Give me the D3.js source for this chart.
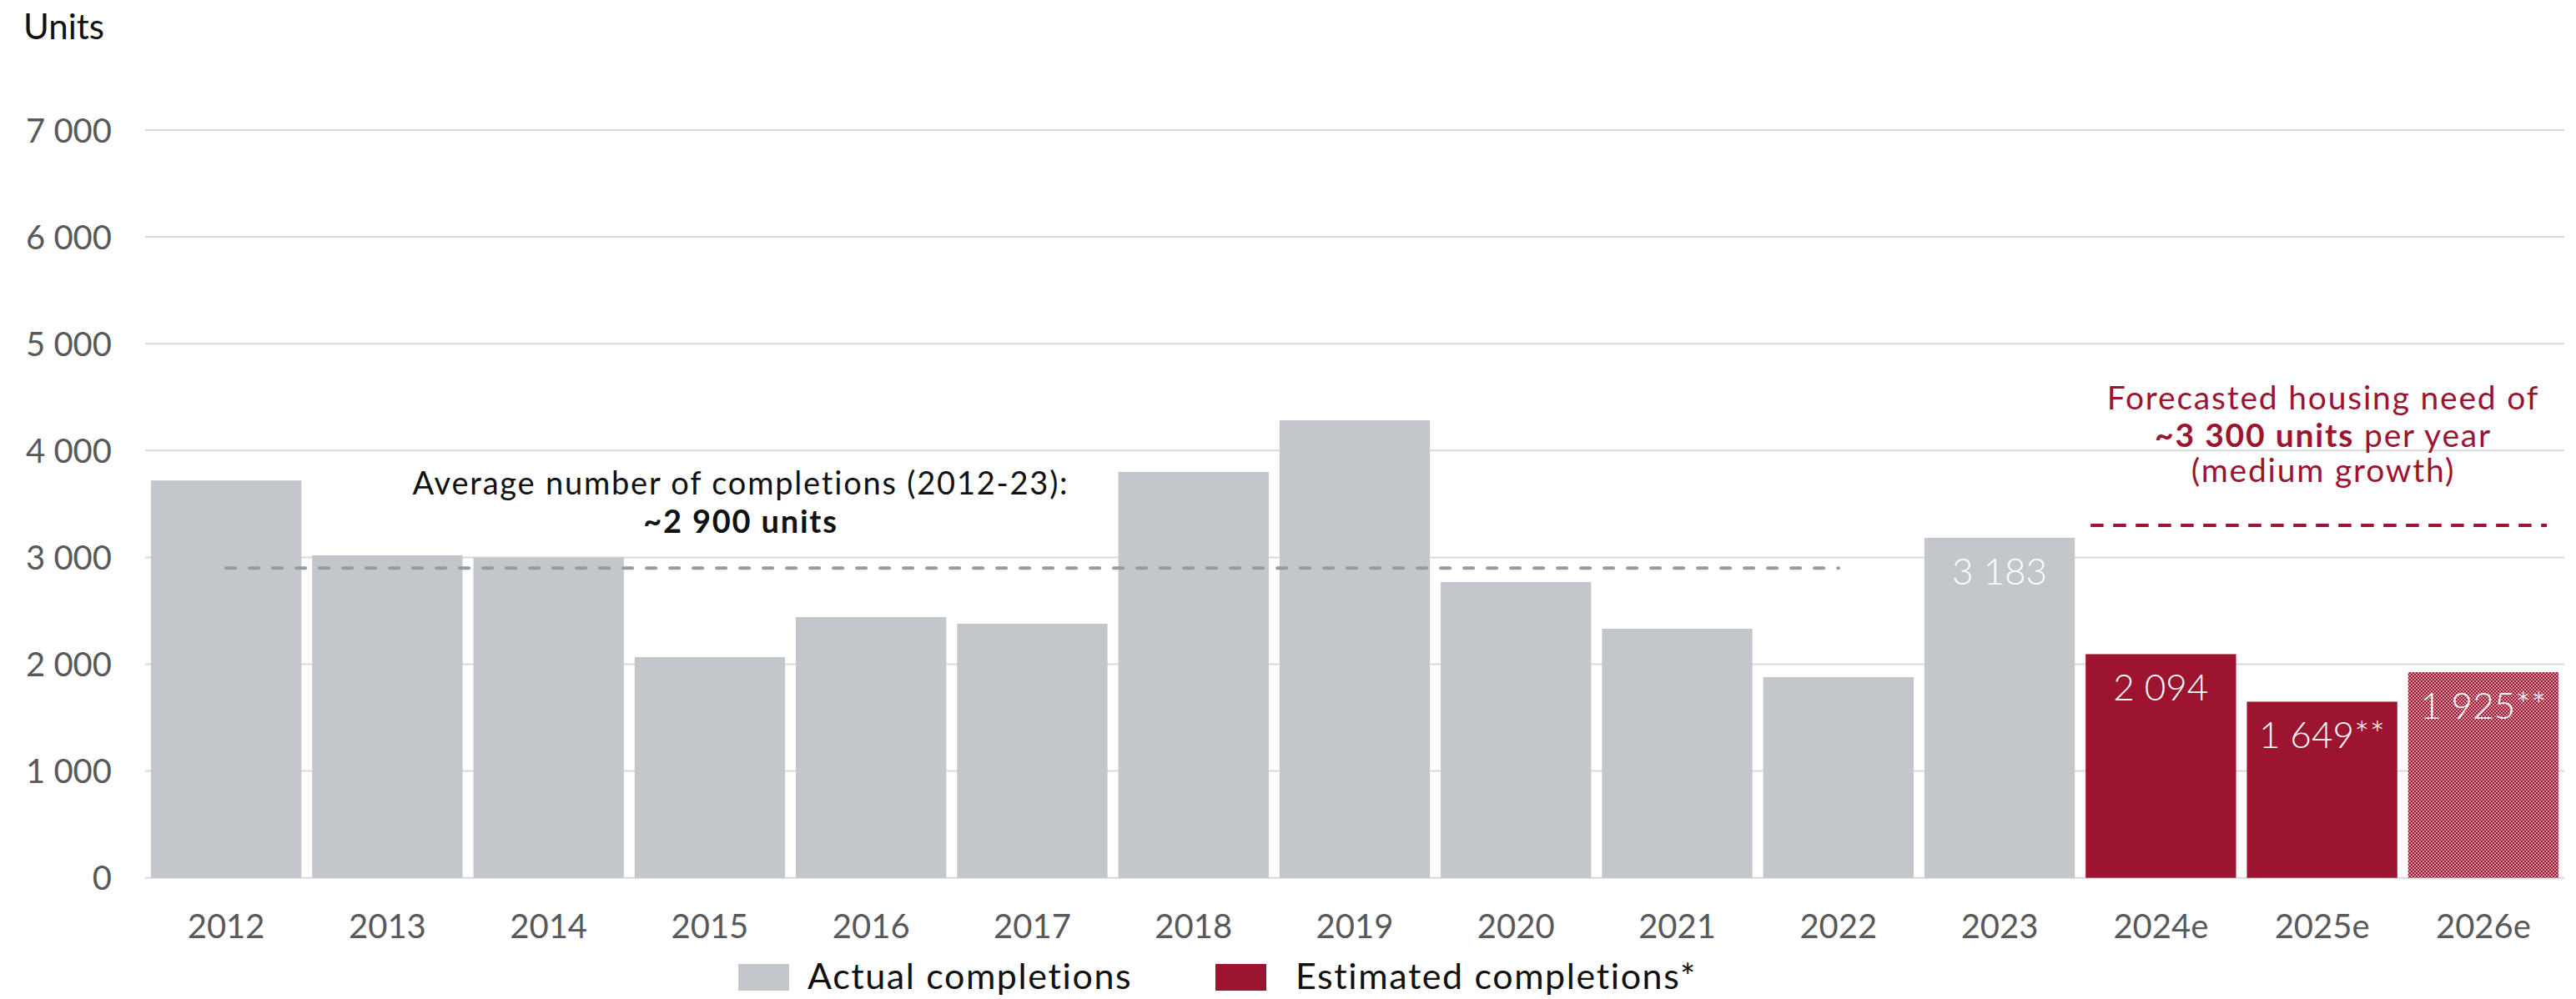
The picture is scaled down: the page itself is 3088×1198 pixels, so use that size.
<!DOCTYPE html>
<html>
<head>
<meta charset="utf-8">
<script src="https://cdn.jsdelivr.net/npm/d3@7"></script>
<style>
  html, body { margin: 0; padding: 0; background: #fff; }
  svg { display: block; font-family: "Lato", "Open Sans", sans-serif; }
</style>
</head>
<body>
<svg id="chart" width="3088" height="1198"></svg>
<script>
// Housing completions, actual (2012-2023) and estimated (2024e-2026e)
const years = ["2012","2013","2014","2015","2016","2017","2018","2019","2020","2021","2022","2023","2024e","2025e","2026e"];
const completions = [3720, 3020, 3000, 2066, 2441, 2379, 3800, 4283, 2769, 2332, 1879, 3183, 2094, 1649, 1925];
const seriesType = ["actual","actual","actual","actual","actual","actual","actual","actual","actual","actual","actual","actual","estimated","estimated","forecast"];
const valueLabels = ["","","","","","","","","","","","3 183","2 094","1 649**","1 925**"];
const yTicks = [0, 1000, 2000, 3000, 4000, 5000, 6000, 7000];
const averageCompletions = 2900;
const averageRange = ["2012", "2022"];
const housingNeed = 3300;
const housingNeedRange = ["2024e", "2026e"];
const legendItems = ["Actual completions", "Estimated completions*"];

const GREY = "#c3c7cb";
const RED = "#9c1430";

const svg = d3.select("#chart");
const defs = svg.append("defs");

// fine checker fill for the 2026e forecast bar
const pat = defs.append("pattern")
  .attr("id", "checker")
  .attr("patternUnits", "userSpaceOnUse")
  .attr("width", 4).attr("height", 4);
pat.append("rect").attr("width", 4).attr("height", 4).attr("fill", RED);
pat.append("rect").attr("x", 0).attr("y", 0).attr("width", 2).attr("height", 2)
  .attr("fill", "#fff").attr("fill-opacity", 0.55).attr("shape-rendering", "crispEdges");
pat.append("rect").attr("x", 2).attr("y", 2).attr("width", 2).attr("height", 2)
  .attr("fill", "#fff").attr("fill-opacity", 0.55).attr("shape-rendering", "crispEdges");

const x = d3.scaleBand()
  .domain(years)
  .range([174, 3074])
  .paddingInner(0.067)
  .paddingOuter(0.036);

const y = d3.scaleLinear()
  .domain([0, 7000])
  .range([1052.7, 156]);

const fmt = d3.formatLocale({ decimal: ".", thousands: " ", grouping: [3], currency: ["", ""] }).format(",d");

// gridlines
svg.append("g")
  .selectAll("line")
  .data(yTicks)
  .join("line")
  .attr("x1", 174).attr("x2", 3074)
  .attr("y1", d => y(d)).attr("y2", d => y(d))
  .attr("stroke", "#d9d9d9")
  .attr("stroke-width", 2);

// y axis labels
const yAxis = d3.axisLeft(y).tickValues(yTicks).tickFormat(fmt).tickSize(0).tickPadding(0);
const gy = svg.append("g").attr("transform", "translate(134,0)").call(yAxis);
gy.select(".domain").remove();
gy.selectAll("text")
  .attr("font-size", 40)
  .attr("fill", "#595959")
  .attr("font-family", "Lato, sans-serif")
  .attr("dy", "0.35em");

// x axis labels
const xAxis = d3.axisBottom(x).tickSize(0).tickPadding(0);
const gx = svg.append("g").attr("transform", "translate(0,1125)").call(xAxis);
gx.select(".domain").remove();
gx.selectAll("text")
  .attr("font-size", 40)
  .attr("fill", "#595959")
  .attr("font-family", "Lato, sans-serif")
  .attr("dy", 0);

// axis unit
svg.append("text")
  .attr("x", 28).attr("y", 47)
  .attr("font-size", 42)
  .attr("fill", "#111")
  .text("Units");

// bars
const data = years.map((yr, i) => ({ year: yr, value: completions[i], type: seriesType[i], label: valueLabels[i] }));
const fillFor = t => t === "actual" ? GREY : (t === "estimated" ? RED : "url(#checker)");

svg.append("g")
  .selectAll("rect")
  .data(data)
  .join("rect")
  .attr("x", d => x(d.year))
  .attr("width", x.bandwidth())
  .attr("y", d => y(d.value))
  .attr("height", d => y(0) - y(d.value))
  .attr("fill", d => fillFor(d.type));

// value labels inside bars
svg.append("g")
  .selectAll("text")
  .data(data.filter(d => d.label))
  .join("text")
  .attr("x", d => x(d.year) + x.bandwidth() / 2)
  .attr("y", d => y(d.value) + 56)
  .attr("text-anchor", "middle")
  .attr("font-size", 44)
  .attr("font-weight", 300)
  .attr("fill", "#fff")
  .text(d => d.label);

// average completions reference line
svg.append("line")
  .attr("x1", x(averageRange[0]) + x.bandwidth() / 2)
  .attr("x2", x(averageRange[1]) + x.bandwidth() / 2)
  .attr("y1", y(averageCompletions)).attr("y2", y(averageCompletions))
  .attr("stroke", "#969b9f")
  .attr("stroke-width", 4)
  .attr("stroke-linecap", "round")
  .attr("stroke-dasharray", "11 17");

const avgNote = svg.append("text")
  .attr("text-anchor", "middle")
  .attr("font-size", 38)
  .attr("letter-spacing", 1.8)
  .attr("fill", "#111");
avgNote.append("tspan").attr("x", 888).attr("y", 593).text("Average number of completions (2012-23):");
avgNote.append("tspan").attr("x", 888).attr("y", 639).attr("font-weight", 700).text("~" + fmt(averageCompletions) + " units");

// forecasted housing need reference line
svg.append("line")
  .attr("x1", x(housingNeedRange[0]) + 6)
  .attr("x2", x(housingNeedRange[1]) + x.bandwidth() - 14)
  .attr("y1", y(housingNeed)).attr("y2", y(housingNeed))
  .attr("stroke", RED)
  .attr("stroke-width", 4)
  .attr("stroke-dasharray", "15.5 11.5");

const needNote = svg.append("text")
  .attr("text-anchor", "middle")
  .attr("font-size", 39)
  .attr("letter-spacing", 1.8)
  .attr("fill", RED);
needNote.append("tspan").attr("x", 2785).attr("y", 491).text("Forecasted housing need of");
const l2 = needNote.append("tspan").attr("x", 2785).attr("y", 536);
l2.append("tspan").attr("font-weight", 700).text("~" + fmt(housingNeed) + " units");
l2.append("tspan").text(" per year");
needNote.append("tspan").attr("x", 2785).attr("y", 578).text("(medium growth)");

// legend
const legend = svg.append("g");
const legendRectX = [885, 1457];
const legendTextX = [968, 1553];
const legendFill = [GREY, RED];
legendItems.forEach((name, i) => {
  legend.append("rect")
    .attr("x", legendRectX[i]).attr("y", 1156)
    .attr("width", 61).attr("height", 32)
    .attr("fill", legendFill[i]);
  legend.append("text")
    .attr("x", legendTextX[i]).attr("y", 1186)
    .attr("font-size", 43)
    .attr("letter-spacing", 1.6)
    .attr("fill", "#111")
    .text(name);
});
</script>
</body>
</html>
